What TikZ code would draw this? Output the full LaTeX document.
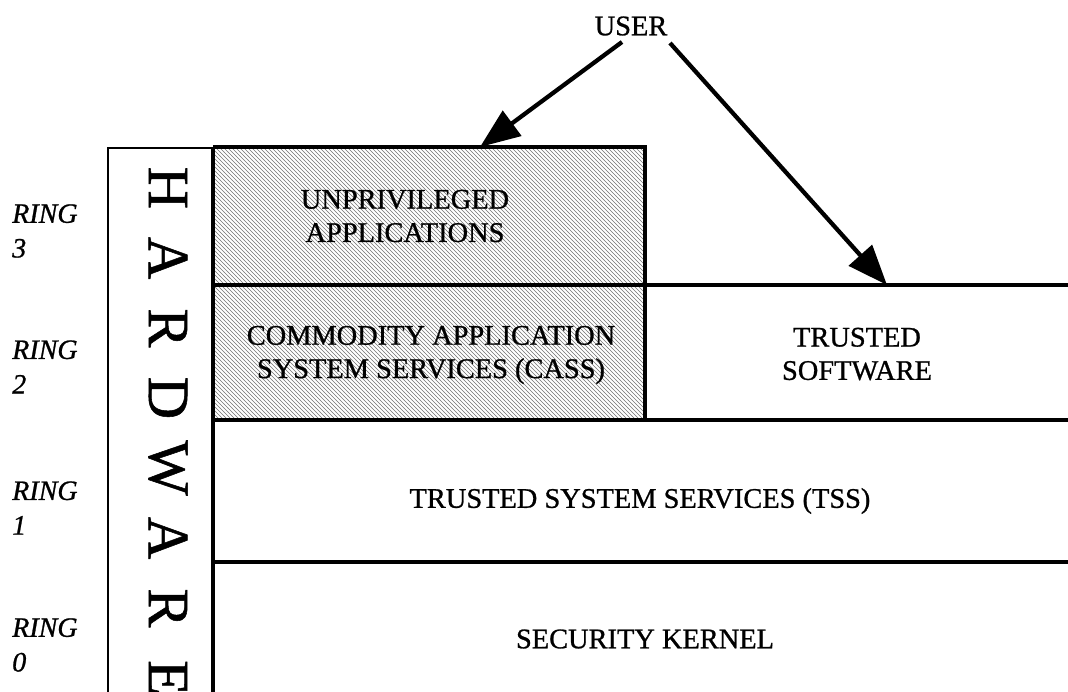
\documentclass[tikz,border=0pt]{standalone}
\usepackage{fontspec}
\setmainfont[FakeBold=0.9,AutoFakeBold=0.9]{Liberation Serif}
\usetikzlibrary{arrows.meta,patterns}
\begin{document}
\begin{tikzpicture}[x=0.75pt,y=-0.75pt,
  boxline/.style={line width=2.4pt},
  thinline/.style={line width=1.5pt},
  hatch/.style={pattern=north west lines, pattern color=black!55},
  txt/.style={font=\fontsize{21.3}{25}\selectfont\bfseries, align=center, inner sep=0pt},
  ringlabel/.style={font=\fontsize{21}{26}\selectfont\bfseries\itshape, align=left, inner sep=0pt, anchor=west},
  hwletter/.style={font=\fontsize{44}{44}\selectfont\bfseries, rotate=-90, inner sep=0pt},
  userarrow/.style={line width=3.2pt, -{Triangle[length=30pt,width=23pt]}}
]
\useasboundingbox (0,0) rectangle (1068,692);
\clip (0,0) rectangle (1068,692);

% shaded layers of ring 3 and ring 2
\fill[hatch] (213,147) rectangle (645,285);
\fill[hatch] (213,285) rectangle (645,420);

% hardware column
\draw[thinline] (108,700) -- (108,148) -- (213,148);
\draw[boxline] (213,147) -- (213,700);

% layer boundaries
\draw[boxline] (213,147) -- (645,147) -- (645,420);
\draw[boxline] (213,285) -- (1068,285);
\draw[boxline] (213,420) -- (1068,420);
\draw[boxline] (213,562) -- (1068,562);

% layer texts
\node[txt] (unpriv) at (405,216) {UNPRIVILEGED\\APPLICATIONS};
\node[txt] (cass) at (431,355) {COMMODITY APPLICATION\\SYSTEM SERVICES (CASS)};
\node[txt] (trusted) at (857,354) {TRUSTED\\SOFTWARE};
\node[txt] (tss) at (640,501) {TRUSTED SYSTEM SERVICES (TSS)};
\node[txt] (kernel) at (645,639) {SECURITY KERNEL};

% ring labels
\node[ringlabel] (ring3) at (12,231) {RING\\3};
\node[ringlabel] (ring2) at (12,367) {RING\\2};
\node[ringlabel] (ring1) at (12,508) {RING\\1};
\node[ringlabel] (ring0) at (12,645) {RING\\0};

% vertical hardware lettering
\foreach \ch [count=\i from 0] in {H,A,R,D,W,A,R,E}
  \node[hwletter] (hw\i) at (168,188+70*\i) {\ch};

% user and access arrows
\node[txt] (user) at (631,26) {USER};
\coordinate (userL) at (622,42);
\coordinate (userR) at (670,43);
\coordinate (unprivTop) at (480,147);
\coordinate (trustedTop) at (887,285);
\draw[userarrow] (userL) -- (unprivTop);
\draw[userarrow] (userR) -- (trustedTop);
\end{tikzpicture}
\end{document}
